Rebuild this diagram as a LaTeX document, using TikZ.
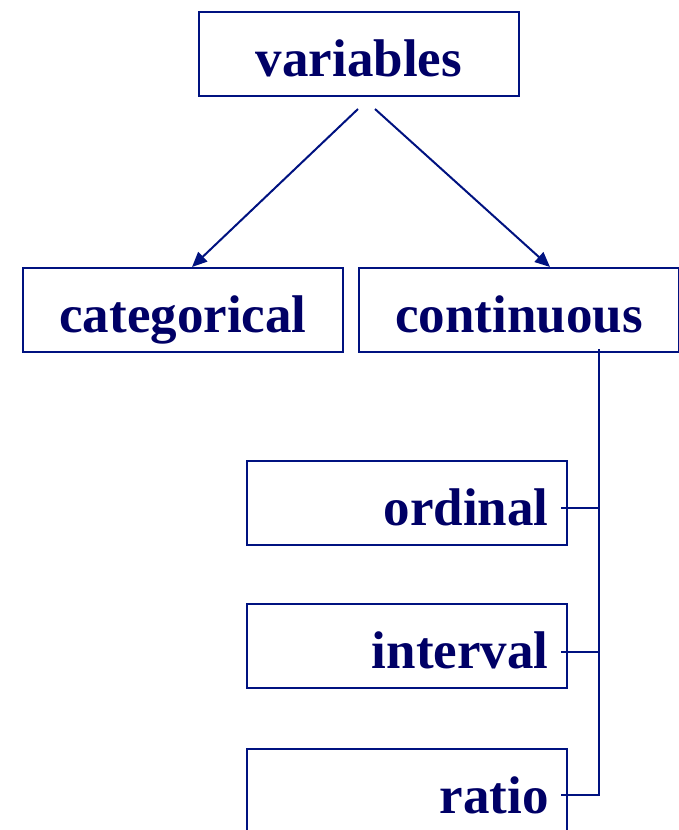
\documentclass[tikz,border=0pt]{standalone}
\usepackage{fontspec}
\setmainfont{Liberation Serif}
\usetikzlibrary{arrows.meta,calc}
\definecolor{linenavy}{RGB}{0,18,128}
\definecolor{textnavy}{RGB}{0,0,102}
\tikzset{
  box/.style={draw=linenavy, line width=2pt, text=textnavy,
    font=\bfseries\fontsize{53}{60}\selectfont,
    text height=44pt, text depth=0pt, inner sep=0pt,
    minimum width=320pt, minimum height=84pt},
  rightbox/.style={box, text width=283pt, align=right, inner xsep=18pt},
  conn/.style={draw=linenavy, line width=2pt},
  arrowconn/.style={conn, -{Triangle[length=15pt,width=13pt]}}
}
\begin{document}
\begin{tikzpicture}[x=1pt, y=-1pt]
  \useasboundingbox (0,0) rectangle (679,830);

  % top level
  \node[box] (var) at (359,54) {variables};

  % two kinds of variables
  \node[box] (cat) at (183,310) {categorical};
  \node[box] (con) at (519,310) {continuous};

  % subtypes listed under the continuous branch
  \node[rightbox] (ord) at (407,503) {ordinal};
  \node[rightbox] (int) at (407,646) {interval};
  \node[rightbox] (rat) at (407,791) {ratio};

  % arrows from the top box
  \coordinate (vl) at ($(var.south)+(-1,12)$);
  \coordinate (vr) at ($(var.south)+(16,12)$);
  \draw[arrowconn] (vl) -- ($(cat.north)+(9,0)$);
  \draw[arrowconn] (vr) -- ($(con.north)+(31,0)$);

  % bracket joining the subtypes
  \coordinate (cbar) at ($(con.south)+(80,-4)$);
  \coordinate (ordtick) at ($(ord.east)+(-7,5)$);
  \coordinate (inttick) at ($(int.east)+(-7,6)$);
  \coordinate (rattick) at ($(rat.east)+(-7,4)$);
  \draw[conn] (cbar) |- (rattick);
  \draw[conn] (ordtick) -- (ordtick -| cbar);
  \draw[conn] (inttick) -- (inttick -| cbar);
\end{tikzpicture}
\end{document}
